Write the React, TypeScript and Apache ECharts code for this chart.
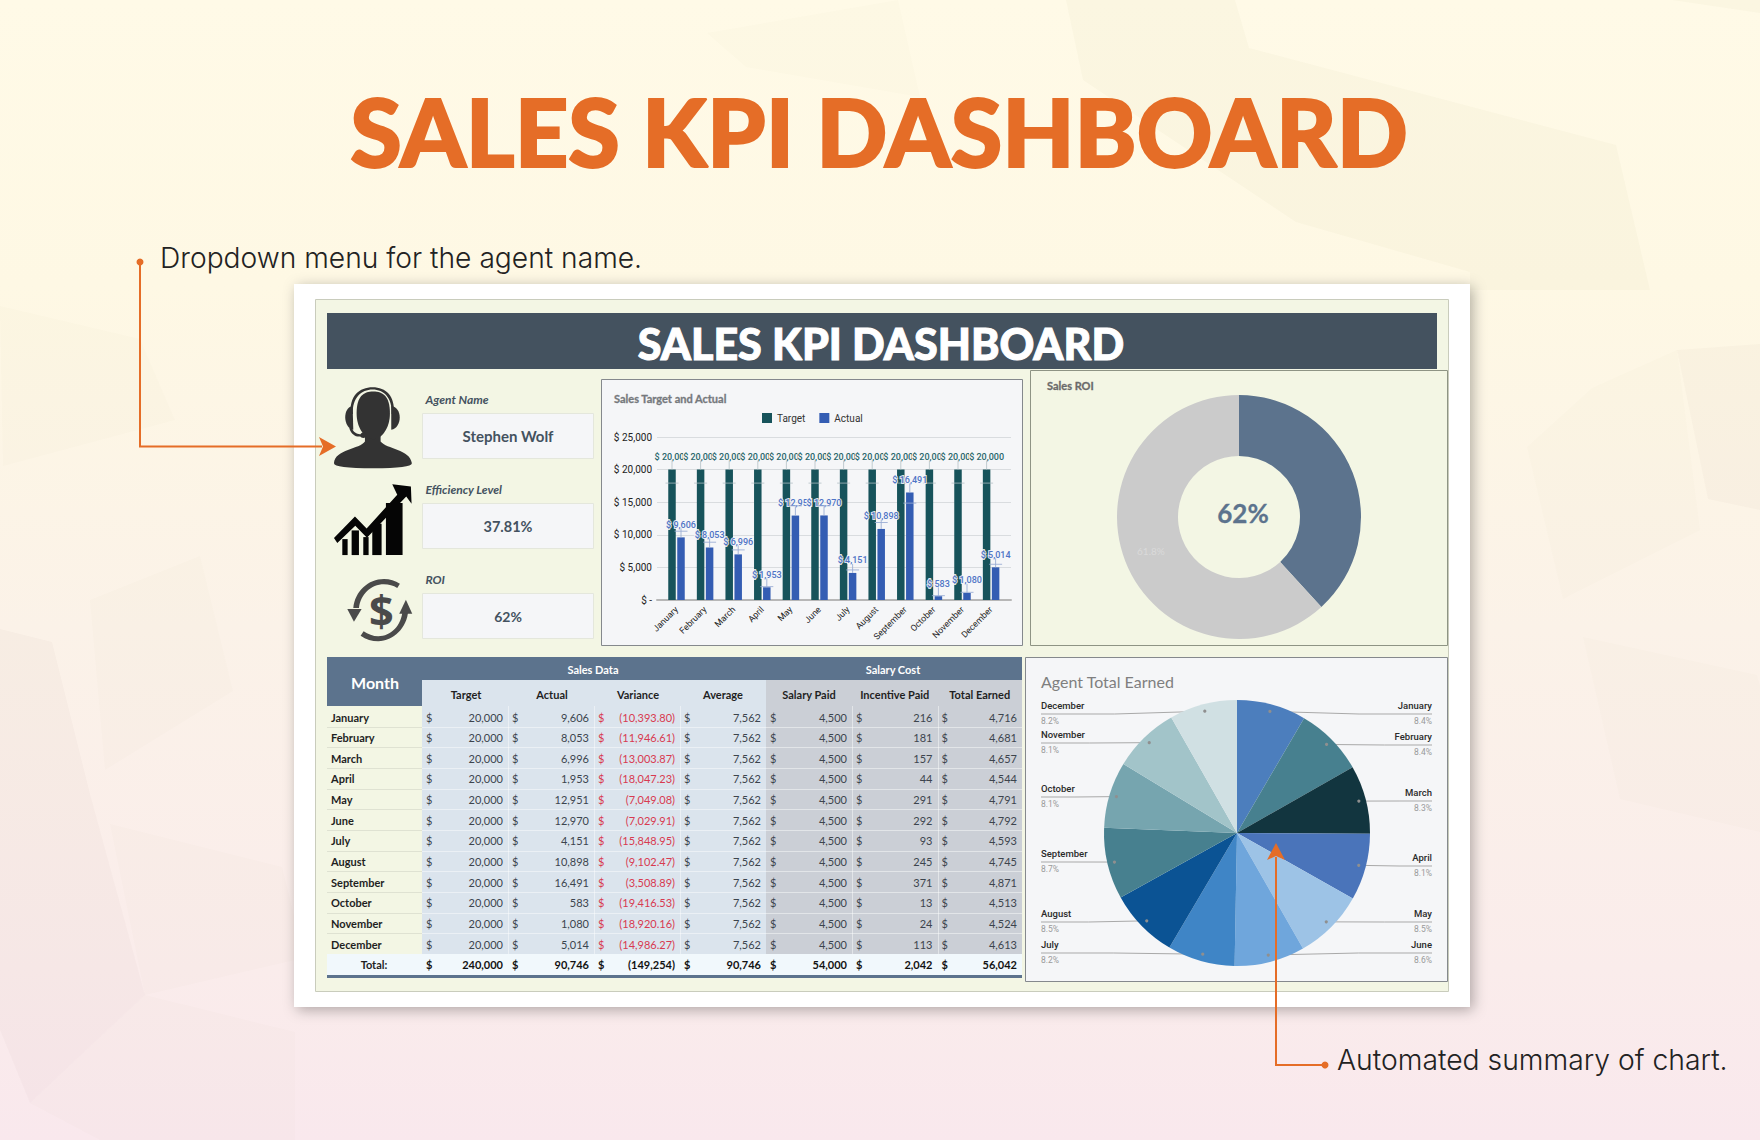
import React, { useEffect, useRef } from "react";
import * as echarts from "echarts";

const months = ["January","February","March","April","May","June","July","August","September","October","November","December"];
const targetValues = [20000,20000,20000,20000,20000,20000,20000,20000,20000,20000,20000,20000];
const actualValues = [9606,8053,6996,1953,12951,12970,4151,10898,16491,583,1080,5014];
const actualWhisker = [10553,8863,7684,2050,14447,14447,4610,11885,14857,666,1178,5480];
const targetWhisker = [17930,17930,17930,17930,17930,17930,17930,17930,17930,17930,17930,17930];
const varianceText = ["(10,393.80)","(11,946.61)","(13,003.87)","(18,047.23)","(7,049.08)","(7,029.91)","(15,848.95)","(9,102.47)","(3,508.89)","(19,416.53)","(18,920.16)","(14,986.27)"];
const averageValues = [7562,7562,7562,7562,7562,7562,7562,7562,7562,7562,7562,7562];
const salaryPaid = [4500,4500,4500,4500,4500,4500,4500,4500,4500,4500,4500,4500];
const incentivePaid = [216,181,157,44,291,292,93,245,371,13,24,113];
const totalEarned = [4716,4681,4657,4544,4791,4792,4593,4745,4871,4513,4524,4613];
const totalsRow = ["240,000","90,746","(149,254)","90,746","54,000","2,042","56,042"];
const roiValues = [38.2, 61.8];
const yTicks = ["$ -","$ 5,000","$ 10,000","$ 15,000","$ 20,000","$ 25,000"];
const pieColors = ["#4C7EBD","#47808F","#12353F","#4A74BA","#9DC3E6","#6FA6DC","#3F85C6","#0B5394","#47808F","#76A5AF","#A2C4C9","#D0E0E3"];
const pieLabelY = [713,744,800,865,921,952,952,921,861,796,742,713];

const TABLE_FONT = "Lato";
const CHART_FONT = "Roboto";
const ORANGE = "#E56D27";
const SLATE = "#5C738D";

const fmt = (v: number) => v.toLocaleString("en-US");
const earnedSum = totalEarned.reduce((a, b) => a + b, 0);

function txt(x: number, y: number, text: string, fontSize: number, fill: string, opts: any = {}) {
  const align = opts.align || "left";
  return {
    type: "text",
    z: opts.z ?? 5,
    style: {
      x, y, text, fill, fontSize,
      fontFamily: opts.font || TABLE_FONT,
      fontWeight: opts.weight || "normal",
      fontStyle: opts.italic ? "italic" : "normal",
      align, textAlign: align,
      verticalAlign: "middle", textVerticalAlign: "middle",
      stroke: opts.thicken ? fill : undefined,
      lineWidth: opts.thicken || 0,
    },
  };
}
function box(x: number, y: number, w: number, h: number, fill: any, opts: any = {}) {
  return {
    type: "rect",
    z: opts.z ?? 1,
    shape: { x, y, width: w, height: h },
    style: {
      fill,
      stroke: opts.stroke,
      lineWidth: opts.lw ?? (opts.stroke ? 1 : 0),
      shadowBlur: opts.blur,
      shadowColor: opts.shadow,
      shadowOffsetY: opts.offY,
      shadowOffsetX: opts.offX,
    },
  };
}
function poly(points: number[][], fill: string, z = 0) {
  return { type: "polygon", z, shape: { points }, style: { fill } };
}
function pline(points: number[][], stroke: string, lw: number, z = 5) {
  return { type: "polyline", z, shape: { points }, style: { stroke, lineWidth: lw, fill: "none" } };
}

function backgroundEls() {
  const els: any[] = [
    box(0, 0, 1760, 1140, new (echarts as any).graphic.LinearGradient(0, 0, 0, 1, [
      { offset: 0, color: "#FFFAE7" },
      { offset: 0.25, color: "#FEF8E4" },
      { offset: 0.55, color: "#FBF2E8" },
      { offset: 0.85, color: "#FAECEB" },
      { offset: 1, color: "#F9E8ED" },
    ]), { z: 0 }),
  ];
  const a = "rgba(150,145,90,0.035)";
  const b = "rgba(120,100,90,0.016)";
  const c = "rgba(110,90,90,0.026)";
  els.push(poly([[1066,0],[1235,0],[1249,48],[1616,145],[1650,290],[1470,290],[1470,272],[1296,222],[1083,80]], a));
  els.push(poly([[1672,0],[1760,0],[1760,13]], a));
  els.push(poly([[707,33],[898,0],[920,97],[746,67]], "rgba(150,145,90,0.015)"));
  els.push(poly([[1527,447],[1563,599],[1700,530],[1677,350],[1592,388]], b));
  els.push(poly([[1677,350],[1708,499],[1760,510],[1760,344]], c));
  els.push(poly([[1583,637],[1620,799],[1760,832],[1760,686],[1757,675]], b));
  els.push(poly([[0,629],[52,642],[90,794],[0,790]], c));
  els.push(poly([[200,556],[233,691],[105,770],[90,600]], b));
  els.push(poly([[0,306],[140,339],[175,420],[3,466]], b));
  els.push(poly([[110,824],[282,867],[295,920],[295,960],[145,995]], b));
  els.push(poly([[0,790],[90,794],[145,995],[30,1103],[0,1030]], c));
  els.push(poly([[145,995],[295,1032],[295,1140],[100,1140],[30,1103]], b));
  return els;
}

function panelEls() {
  const els: any[] = [
    box(294, 284, 1176, 723, "#FFFFFF", { z: 1, blur: 14, shadow: "rgba(0,0,0,0.3)", offY: 3, offX: 3 }),
    box(315.5, 299.5, 1133, 692, "#F3F6E4", { z: 1, stroke: "#C9CCBC" }),
    box(327, 313, 1110, 56, "#44525F", { z: 2 }),
    box(601.5, 379.5, 421, 266, "#F5F6F8", { z: 2, stroke: "#85898D" }),
    box(1030.5, 370.5, 417, 275, "#F3F6E4", { z: 2, stroke: "#8E9484" }),
    box(1025.5, 657.5, 422, 324, "#F5F6F8", { z: 2, stroke: "#85898D" }),
    txt(881, 343, "SALES KPI DASHBOARD", 43, "#FFFFFF", { weight: 900, align: "center", thicken: 1 }),
    txt(614, 398, "Sales Target and Actual", 11, "#75797D", { weight: 700, thicken: 0.3 }),
    txt(1047, 385, "Sales ROI", 11, "#6A6A6A", { weight: 700, thicken: 0.3 }),
    txt(1041, 681, "Agent Total Earned", 16, "#7F7F7F"),
    txt(1243, 513, "62%", 26, SLATE, { weight: 700, z: 6, align: "center", thicken: 0.3 }),
  ];
  const agent = [
    { label: "Agent Name", value: "Stephen Wolf", labelY: 399, top: 413, size: 15 },
    { label: "Efficiency Level", value: "37.81%", labelY: 489, top: 503, size: 14.5 },
    { label: "ROI", value: "62%", labelY: 579, top: 593, size: 14 },
  ];
  agent.forEach((a) => {
    els.push(txt(425.5, a.labelY, a.label, 12, "#44525F", { weight: 700, italic: true }));
    els.push(box(422.5, a.top + 0.5, 171, 45, "#F5F6F8", { z: 2, stroke: "#E4E7DC" }));
    els.push(txt(508, a.top + 23, a.value, a.size, "#44525F", { weight: 700, align: "center" }));
  });
  return els;
}

function tableEls() {
  const els: any[] = [];
  const colX = [422, 508, 594, 680, 766, 852, 937.5, 1022];
  const rowTop = 706, rowH = 20.66;
  els.push(box(327, 657, 695, 23, SLATE, { z: 2 }));
  els.push(box(327, 680, 95, 26, SLATE, { z: 2 }));
  els.push(box(422, 680, 344, 26, "#DBE4ED", { z: 2 }));
  els.push(box(766, 680, 256, 26, "#CBCFD6", { z: 2 }));
  els.push(box(422, rowTop, 344, rowH * 12, "#DBE4ED", { z: 2 }));
  els.push(box(766, rowTop, 256, rowH * 12, "#CBCFD6", { z: 2 }));
  els.push(box(327, rowTop + rowH * 12, 695, 21, "#F1F8FC", { z: 2 }));
  els.push(box(327, rowTop + rowH * 12 + 21, 695, 3, SLATE, { z: 2 }));
  els.push(txt(375, 682, "Month", 16, "#FFFFFF", { weight: 700, align: "center" }));
  els.push(txt(593, 669, "Sales Data", 11, "#FFFFFF", { weight: 700, align: "center" }));
  els.push(txt(893, 669, "Salary Cost", 11, "#FFFFFF", { weight: 700, align: "center" }));
  ["Target","Actual","Variance","Average","Salary Paid","Incentive Paid","Total Earned"].forEach((h, c) => {
    els.push(txt((colX[c] + colX[c + 1]) / 2 + (c < 3 ? 1 : 0), 694, h, 11, "#1F1F1F", { weight: 700, align: "center" }));
  });
  const lineTint = "rgba(255,255,255,0.45)";
  for (let i = 1; i <= 12; i++) {
    const ly = Math.round(rowTop + rowH * i) + 0.5;
    if (i < 12) {
      els.push(pline([[327, ly], [422, ly]], "#DFE2D2", 1, 3));
      els.push(pline([[422, ly], [1022, ly]], lineTint, 1, 3));
    }
  }
  [508, 594, 680, 852, 937.5].forEach((x) => {
    const px = Math.round(x) + 0.5;
    els.push(pline([[px, rowTop], [px, rowTop + rowH * 12]], lineTint, 1, 3));
  });
  months.forEach((m, i) => {
    const y = rowTop + rowH * i + 11;
    els.push(txt(331, y, m, 11, "#1F1F1F", { weight: 700 }));
    const cells = [fmt(targetValues[i]), fmt(actualValues[i]), varianceText[i], fmt(averageValues[i]), fmt(salaryPaid[i]), fmt(incentivePaid[i]), fmt(totalEarned[i])];
    cells.forEach((c, k) => {
      const red = k === 2;
      els.push(txt(colX[k] + 4, y, "$", 11, red ? "#D83A50" : "#3C444D"));
      els.push(txt(colX[k + 1] - 5, y, c, 11, red ? "#D83A50" : "#3C444D", { align: "right" }));
    });
  });
  const ty = rowTop + rowH * 12 + 10.5;
  els.push(txt(374, ty, "Total:", 11, "#1F1F1F", { weight: 700, align: "center" }));
  totalsRow.forEach((c, k) => {
    els.push(txt(colX[k] + 4, ty, "$", 11, "#111111", { weight: 700 }));
    els.push(txt(colX[k + 1] - 5, ty, c, 11, "#111111", { weight: 700, align: "right" }));
  });
  return els;
}

const iconPerson = "M165 430 L165 455 C150 478 75 478 72 520 Q72 535 190 535 Q305 535 306 520 C300 478 230 478 212 455 L212 430 Z";
const iconHead = "M140 370 C140 320 160 305 190 305 C220 305 240 320 240 370 C240 415 215 448 190 448 C165 448 140 415 140 370 Z";
const iconBand = "M122 372 C118 318 148 292 188 292 C228 292 256 318 252 372 L245 372 C248 325 222 299 188 299 C154 299 126 325 129 372 Z";
const iconCupL = "M128 348 C98 352 98 412 130 420 Z";
const iconCupR = "M244 348 C278 352 278 412 244 420 Z";
const iconMic = "M118 415 L125 413 C130 428 142 434 152 433 C154 426 170 426 170 436 C170 446 154 446 151 440 C138 442 124 434 118 415 Z";
const iconTrend = "M72 745 L135 680 L170 716 L262 615 L247 583 L303 590 L305 642 L289 620 L171 744 L136 708 L82 760 Z";
const iconCycleTop = "M130 955 C135 905 175 868 222 868 C240 868 256 873 270 882 L262 895 C250 888 237 884 222 884 C183 884 152 915 147 955 Z";
const iconCycleBot = "M295 962 C292 1015 250 1055 205 1055 C186 1055 168 1049 152 1038 L161 1025 C174 1034 189 1040 205 1040 C243 1040 275 1008 278 962 Z";
const iconHeadL = "M112 958 L155 958 L132 996 Z";
const iconHeadR = "M268 972 L307 972 L288 930 Z";

function iconEls() {
  const shapes: [string, string][] = [
    ["iPerson", iconPerson], ["iHead", iconHead], ["iBand", iconBand], ["iCupL", iconCupL], ["iCupR", iconCupR], ["iMic", iconMic],
    ["iTrend", iconTrend], ["iCycT", iconCycleTop], ["iCycB", iconCycleBot], ["iHL", iconHeadL], ["iHR", iconHeadR],
  ];
  shapes.forEach(([n, d]) => (echarts as any).graphic.registerShape(n, (echarts as any).graphic.extendPath(d, {})));
  const s = (type: string, fill: string) => ({ type, z: 6, style: { fill } });
  const r = (x: number, y: number, w: number, h: number) => ({ type: "rect", z: 6, shape: { x, y, width: w, height: h }, style: { fill: "#050505" } });
  return [
    {
      type: "group", x: 310, y: 290, scaleX: 1 / 3, scaleY: 1 / 3,
      children: [
        s("iPerson", "#333333"), s("iHead", "#333333"), s("iBand", "#333333"), s("iCupL", "#333333"), s("iCupR", "#333333"), s("iMic", "#333333"),
        r(97, 748, 16, 48), r(125, 722, 22, 74), r(160, 742, 16, 54), r(187, 702, 28, 94), r(228, 640, 50, 156),
        s("iTrend", "#050505"),
        s("iCycT", "#4A4A4A"), s("iCycB", "#4A4A4A"), s("iHL", "#4A4A4A"), s("iHR", "#4A4A4A"),
        { type: "text", z: 6, style: { x: 214, y: 962, text: "$", fontSize: 130, fontWeight: 700, fontFamily: "Open Sans", fill: "#4A4A4A", align: "center", textAlign: "center", verticalAlign: "middle", textVerticalAlign: "middle" } },
      ],
    },
  ];
}

function annotationEls() {
  return [
    txt(879, 131, "SALES KPI DASHBOARD", 93.5, ORANGE, { weight: 900, align: "center", z: 3, thicken: 2 }),
    txt(160, 258, "Dropdown menu for the agent name.", 28.2, "#222222", { font: "Inter", weight: 300, z: 3 }),
    txt(1337, 1060, "Automated summary of chart.", 28.3, "#222222", { font: "Inter", weight: 300, z: 3 }),
    { type: "circle", z: 100, shape: { cx: 140, cy: 262, r: 3.5 }, style: { fill: ORANGE } },
    pline([[140, 262], [140, 446.5], [322, 446.5]], ORANGE, 2, 100),
    poly([[336, 446.5], [319, 437], [323, 446.5], [319, 456]], ORANGE, 100),
    { type: "circle", z: 100, shape: { cx: 1325, cy: 1065, r: 3.5 }, style: { fill: ORANGE } },
    pline([[1325, 1065], [1276, 1065], [1276, 857]], ORANGE, 2, 100),
    poly([[1276, 843], [1267, 860], [1276, 856], [1285, 860]], ORANGE, 100),
  ];
}

// Positions of the leader dots follow the pie's own slice angles.
const pieCx = 1237, pieCy = 833, pieR = 133;
function pieMidAngles() {
  let acc = 0;
  return totalEarned.map((v) => {
    const mid = (acc + v / 2) / earnedSum * Math.PI * 2;
    acc += v;
    return mid;
  });
}
const pieMids = pieMidAngles();
const dotAt = (i: number) => [pieCx + Math.sin(pieMids[i]) * pieR * 0.947, pieCy - Math.cos(pieMids[i]) * pieR * 0.947];

function pieDotEls() {
  return months.map((_, i) => {
    const [cx, cy] = dotAt(i);
    return { type: "circle", z: 60, shape: { cx, cy, r: 1.6 }, style: { fill: "#8F8F8F" } };
  });
}

function whiskerRender(offsetPx: number, color: string, whisker: number[]) {
  return (params: any, api: any) => {
    const i = api.value(0);
    const top = api.coord([i, api.value(1)]);
    const cross = api.coord([i, whisker[i]]);
    const x = top[0] + offsetPx;
    return {
      type: "group",
      children: [
        { type: "line", shape: { x1: x, y1: top[1], x2: x, y2: top[1] - 9 }, style: { stroke: color, lineWidth: 1 } },
        { type: "line", shape: { x1: x - 6.5, y1: cross[1], x2: x + 6.5, y2: cross[1] }, style: { stroke: color, lineWidth: 1 } },
      ],
    };
  };
}

export default function App() {
  const ref = useRef<HTMLDivElement>(null);
  useEffect(() => {
    const chart = echarts.init(ref.current!, null, { renderer: "svg", width: 1760, height: 1140 });
    const labelBase = { show: true, position: "top", distance: 8, fontFamily: CHART_FONT, fontWeight: 500, fontSize: 9, formatter: (p: any) => "$ " + fmt(p.value) };
    chart.setOption({
      animation: false,
      graphic: { elements: [...backgroundEls(), ...annotationEls(), ...panelEls(), ...tableEls(), ...iconEls(), ...pieDotEls()] },
      legend: {
        left: 757, top: 408, itemWidth: 10, itemHeight: 10, itemGap: 14, icon: "rect",
        data: ["Target", "Actual"],
        textStyle: { fontFamily: CHART_FONT, fontSize: 10, color: "#333333" },
      },
      grid: [
        { left: 657, top: 437, width: 354, height: 163 },
        { left: 662.2, top: 437, width: 343.2, height: 163 },
      ],
      xAxis: [
        { type: "category", gridIndex: 0, z: 2.5, data: months, axisLabel: { show: false }, axisTick: { show: false }, axisLine: { show: true, lineStyle: { color: "#B7B7B7", width: 2 } } },
        {
          type: "category", gridIndex: 1, z: 2.5, data: months, axisTick: { show: false }, axisLine: { show: false },
          axisLabel: { rotate: 45, margin: 8, interval: 0, fontFamily: CHART_FONT, fontSize: 8.8, color: "#222222" },
        },
      ],
      yAxis: [
        {
          type: "value", gridIndex: 0, z: 2.5, min: 0, max: 25000, interval: 5000, show: true,
          axisLine: { show: false }, axisTick: { show: false },
          splitLine: { show: true, lineStyle: { color: "#D9DCDF", width: 1 } },
          axisLabel: { show: true, margin: 5, fontFamily: CHART_FONT, fontSize: 10, color: "#222222", formatter: (_: number, idx: number) => yTicks[idx] },
        },
        { type: "value", gridIndex: 1, min: 0, max: 25000, interval: 5000, show: false, splitLine: { show: false } },
      ],
      series: [
        {
          type: "line", xAxisIndex: 0, yAxisIndex: 0, silent: true, showSymbol: false,
          data: months.map(() => null),
        },
        {
          name: "Target", type: "bar", xAxisIndex: 1, yAxisIndex: 1, data: targetValues, barWidth: 7.5, barGap: "20%", z: 3,
          itemStyle: { color: "#17535B" },
          label: { ...labelBase, color: "#2A676C", backgroundColor: "#F5F6F8" },
        },
        {
          name: "Actual", type: "bar", xAxisIndex: 1, yAxisIndex: 1, data: actualValues, barWidth: 7.5, barGap: "20%", z: 5,
          itemStyle: { color: "#345DB3" },
          label: { ...labelBase, color: "#4F74C6", textBorderColor: "rgba(245,246,248,0.9)", textBorderWidth: 2 },
        },
        {
          type: "custom", xAxisIndex: 1, yAxisIndex: 1, z: 4, silent: true,
          data: targetValues.map((v, i) => [i, v]),
          renderItem: whiskerRender(-4.5, "rgba(175,190,195,0.75)", targetWhisker),
        },
        {
          type: "custom", xAxisIndex: 1, yAxisIndex: 1, z: 6, silent: true,
          data: actualValues.map((v, i) => [i, v]),
          renderItem: whiskerRender(4.5, "rgba(150,170,210,0.85)", actualWhisker),
        },
        {
          type: "pie", center: [1239, 517], radius: [61, 122], startAngle: 90, clockwise: true, z: 3,
          data: [
            { value: roiValues[0], name: "Return", itemStyle: { color: SLATE }, label: { show: false } },
            {
              value: roiValues[1], name: "Remaining", itemStyle: { color: "#CBCBCB" },
              label: { show: true, position: "inside", formatter: "{d}%", fontFamily: TABLE_FONT, fontSize: 10, color: "#DADADA" },
            },
          ],
          labelLine: { show: false },
          emphasis: { disabled: true },
        },
        {
          type: "pie", center: [pieCx, pieCy], radius: [0, pieR], startAngle: 90, clockwise: true, z: 3,
          data: months.map((m, i) => ({ name: m, value: totalEarned[i], itemStyle: { color: pieColors[i] } })),
          label: {
            show: true, position: "outer",
            formatter: (p: any) => `{n|${p.name}}\n{p|${(p.value / earnedSum * 100).toFixed(1)}%}`,
            rich: {
              n: { fontFamily: CHART_FONT, fontWeight: 500, fontSize: 9.5, color: "#2B2B2B", height: 15, lineHeight: 15 },
              p: { fontFamily: CHART_FONT, fontSize: 8.5, color: "#9A9A9A", height: 15, lineHeight: 15 },
            },
          },
          labelLine: { show: true, smooth: false, lineStyle: { color: "#A9A9A9", width: 1 } },
          labelLayout: (p: any) => {
            const i = p.dataIndex;
            const right = i < 6;
            const ly = pieLabelY[i];
            const [dx, dy] = dotAt(i);
            const endX = right ? 1432 : 1041;
            const elbowX = dx + (endX - dx) * 0.55;
            return {
              x: endX, y: ly, align: right ? "right" : "left", verticalAlign: "middle",
              labelLinePoints: [[dx, dy], [elbowX, ly + 1], [endX, ly + 1]],
            };
          },
          emphasis: { disabled: true },
        },
      ],
    });
    return () => chart.dispose();
  }, []);
  return <div ref={ref} style={{ position: "absolute", left: 0, top: 0, width: 1760, height: 1140 }} />;
}
